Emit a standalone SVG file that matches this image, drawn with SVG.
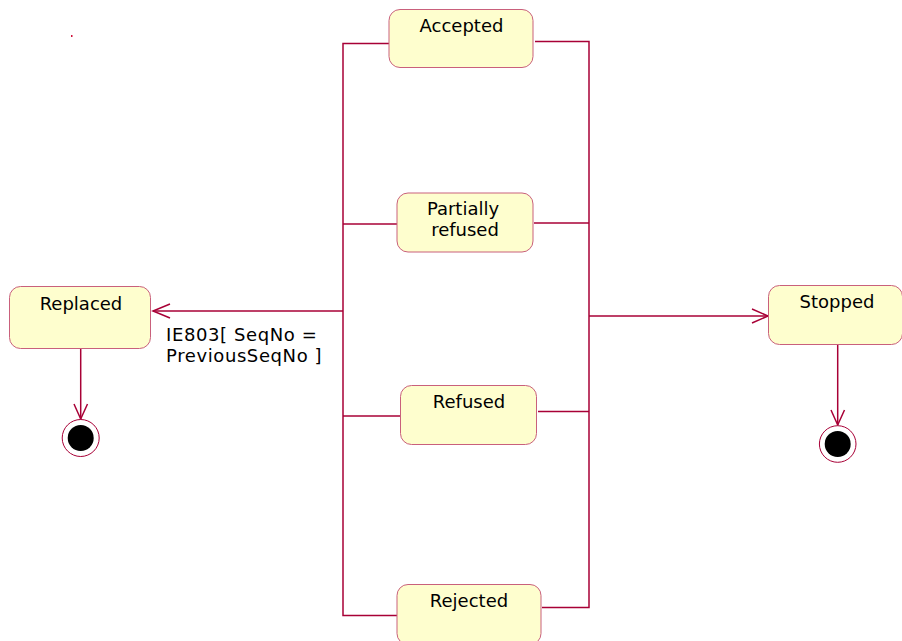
<svg xmlns="http://www.w3.org/2000/svg" width="902" height="641" viewBox="0 0 902 641">
<defs>
<style>
.node rect.box{fill:#FEFECE;stroke:#C9607C;stroke-width:1}
.node text{font-family:"DejaVu Sans","Liberation Sans",sans-serif;font-size:18px;fill:#000;text-anchor:middle}
.lbl{font-family:"DejaVu Sans","Liberation Sans",sans-serif;font-size:18px;fill:#000;letter-spacing:0.6px}
.edge{fill:none;stroke:#A80036;stroke-width:1.5}
.final .outer{fill:#fff;stroke:#A80036;stroke-width:1}
.final .inner{fill:#000}
</style>
</defs>
<rect x="0" y="0" width="902" height="641" fill="#fff"/>
<rect x="71" y="35" width="1.5" height="2" fill="#D0103A"/>
<g id="connectors">
<polyline class="edge" points="389,43.5 343,43.5 343,615.5 397,615.5"/>
<line class="edge" x1="343" y1="224" x2="397" y2="224"/>
<line class="edge" x1="343" y1="416" x2="400" y2="416"/>
<line class="edge" x1="343" y1="311" x2="153" y2="311"/>
<polyline class="edge" points="170,304 153,311 170,318"/>
<polyline class="edge" points="535,41.5 589,41.5 589,607.5 542,607.5"/>
<line class="edge" x1="534" y1="223" x2="589" y2="223"/>
<line class="edge" x1="538" y1="411.5" x2="589" y2="411.5"/>
<line class="edge" x1="589" y1="316" x2="768" y2="316"/>
<polyline class="edge" points="752,309 768,316 752,323"/>
<line class="edge" x1="80.7" y1="349" x2="80.7" y2="419"/>
<polyline class="edge" points="74,404 80.7,419 87.5,404"/>
<line class="edge" x1="837.7" y1="345" x2="837.7" y2="425"/>
<polyline class="edge" points="831,410 837.7,425 844.5,410"/>
<text class="lbl" x="166" y="341">IE803[ SeqNo =</text>
<text class="lbl" x="166" y="362">PreviousSeqNo ]</text>
</g>
<g id="accepted" class="node"><rect class="box" x="389" y="9.5" width="144" height="58" rx="11"/><text x="461.5" y="32">Accepted</text></g>
<g id="partially_refused" class="node"><rect class="box" x="397" y="193" width="136" height="59" rx="11"/><text x="463" y="215">Partially</text><text x="465" y="235.5">refused</text></g>
<g id="refused" class="node"><rect class="box" x="400.5" y="385.5" width="136" height="59" rx="11"/><text x="469" y="408">Refused</text></g>
<g id="rejected" class="node"><rect class="box" x="397" y="584.5" width="144" height="60" rx="11"/><text x="469" y="607">Rejected</text></g>
<g id="replaced" class="node"><rect class="box" x="9.5" y="286.5" width="141" height="62" rx="11"/><text x="81" y="309.5">Replaced</text></g>
<g id="stopped" class="node"><rect class="box" x="768.5" y="285.5" width="134" height="59" rx="11"/><text x="837" y="307.5">Stopped</text></g>
<g id="final_replaced" class="final"><circle class="outer" cx="80.7" cy="438" r="18.5"/><circle class="inner" cx="80.7" cy="438" r="13"/></g>
<g id="final_stopped" class="final"><circle class="outer" cx="837.7" cy="444" r="18.3"/><circle class="inner" cx="837.7" cy="444" r="13"/></g>
</svg>
